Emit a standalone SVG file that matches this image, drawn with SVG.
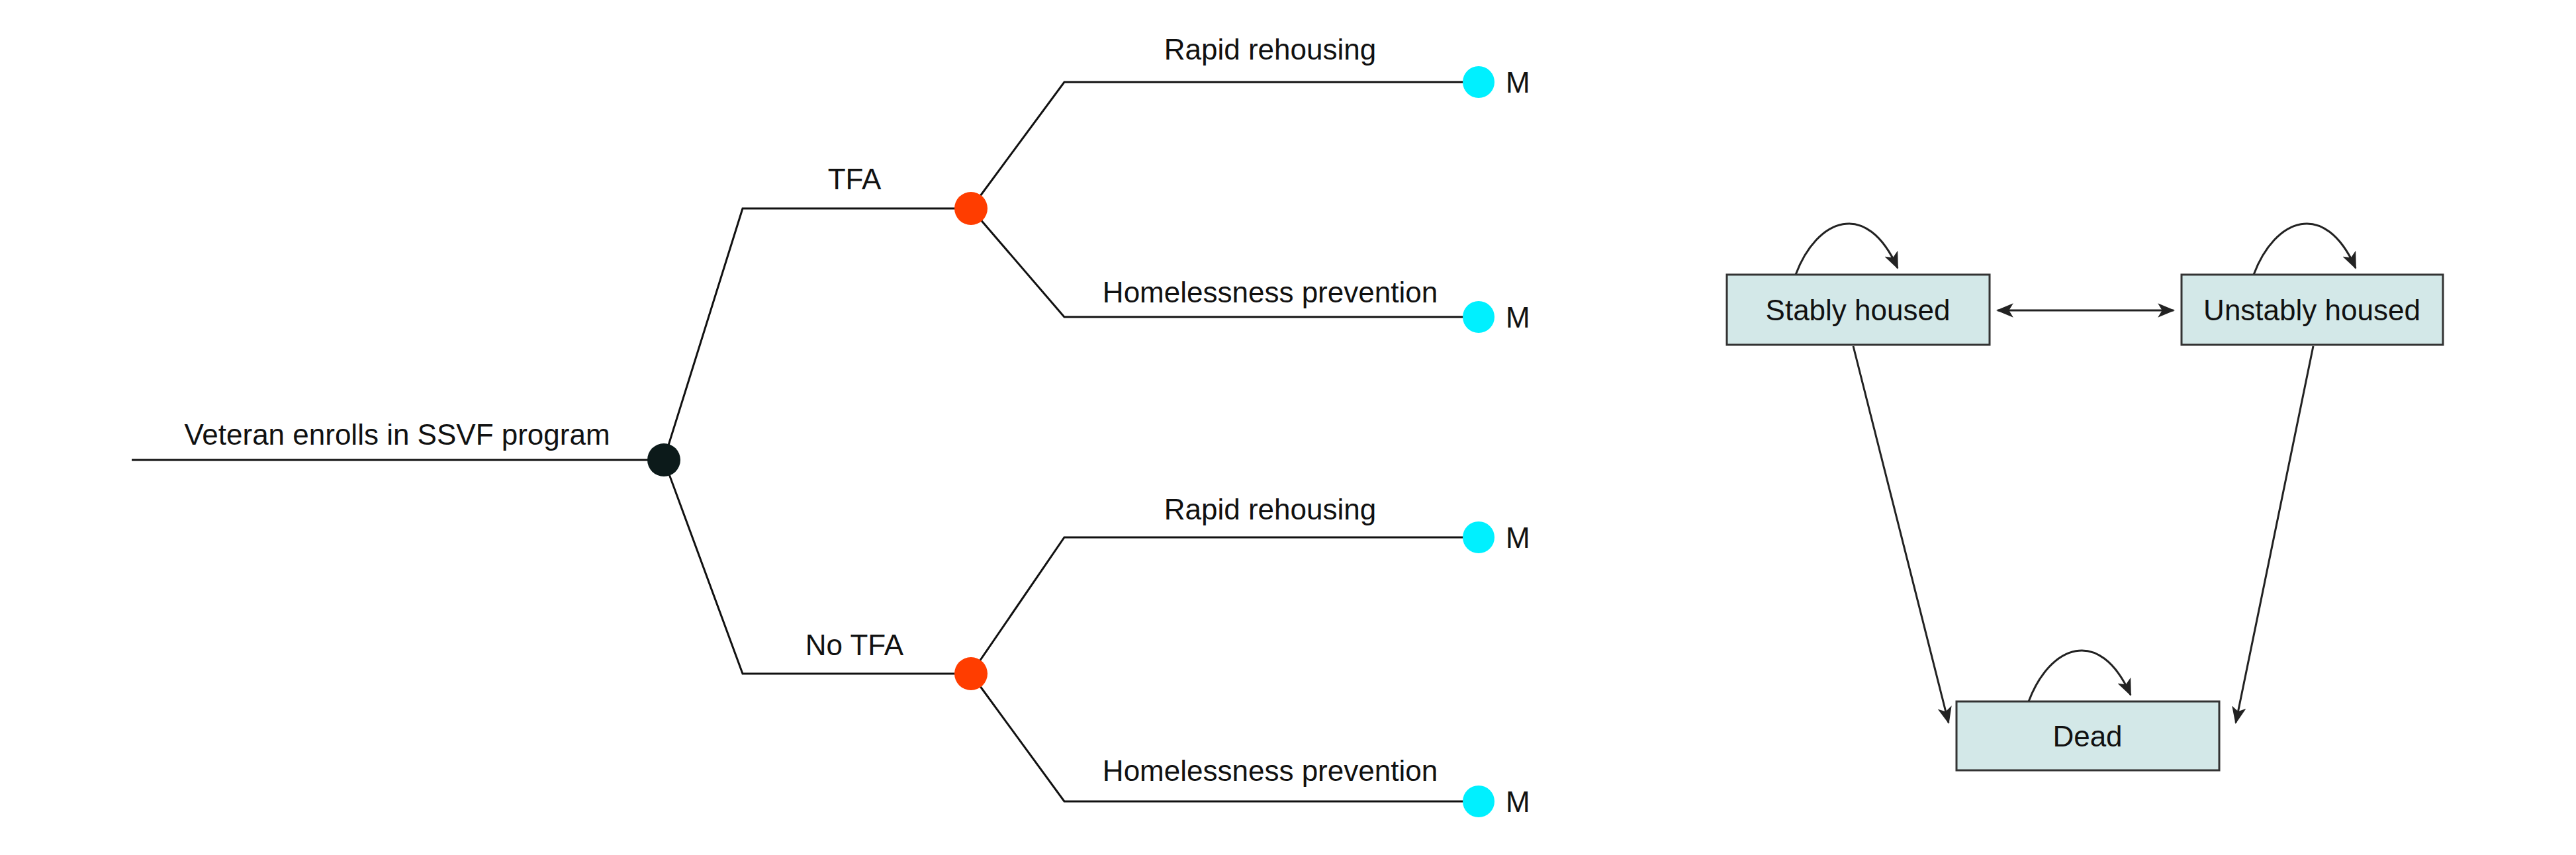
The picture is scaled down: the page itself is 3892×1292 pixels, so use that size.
<svg xmlns="http://www.w3.org/2000/svg" width="3892" height="1292" viewBox="0 0 3892 1292">
<style>
.e{fill:none;stroke:#111;stroke-width:3}
.a{fill:none;stroke:#222;stroke-width:3}
text{font-family:"Liberation Sans",Arial,sans-serif;font-size:44px;fill:#111}
.box{fill:#d3e8e8;stroke:#333;stroke-width:3}
.t{text-anchor:middle}
</style>
<defs>
<marker id="ah" viewBox="0 0 12 10" refX="11" refY="5" markerWidth="12" markerHeight="10" markerUnits="userSpaceOnUse" orient="auto-start-reverse">
<path d="M0,0 L12,5 L0,10 L3,5 Z" fill="#222"/>
</marker>
<marker id="ah2" viewBox="0 0 12 10" refX="11" refY="5" markerWidth="26" markerHeight="22" markerUnits="userSpaceOnUse" orient="auto-start-reverse">
<path d="M0,0 L12,5 L0,10 L3,5 Z" fill="#222"/>
</marker>
</defs>
<g id="connectors">
<path class="e" d="M199,695 H1003"/>
<path class="e" d="M1003,695 L1122,315 H1467"/>
<path class="e" d="M1003,695 L1122,1018 H1467"/>
<path class="e" d="M1467,315 L1608,124 H2234"/>
<path class="e" d="M1467,315 L1608,479 H2234"/>
<path class="e" d="M1467,1018 L1608,812 H2234"/>
<path class="e" d="M1467,1018 L1608,1211 H2234"/>
<path class="a" d="M3018,469 H3284" marker-start="url(#ah2)" marker-end="url(#ah2)"/>
<path class="a" d="M2713,415 C2745,330 2820,300 2867,405" marker-end="url(#ah2)"/>
<path class="a" d="M3405,415 C3437,330 3512,300 3559,405" marker-end="url(#ah2)"/>
<path class="a" d="M3065,1060 C3097,975 3172,945 3219,1050" marker-end="url(#ah2)"/>
<path class="a" d="M2800,523 L2944,1092" marker-end="url(#ah2)"/>
<path class="a" d="M3495,523 L3378,1092" marker-end="url(#ah2)"/>
</g>
<g id="root"><circle cx="1003" cy="695" r="25" fill="#0c1a1a"/><text class="t" x="600" y="672">Veteran enrolls in SSVF program</text></g>
<g id="tfa"><circle cx="1467" cy="315" r="25" fill="#ff3d00"/><text class="t" x="1291" y="286">TFA</text></g>
<g id="notfa"><circle cx="1467" cy="1018" r="25" fill="#ff3d00"/><text class="t" x="1291" y="990">No TFA</text></g>
<g id="rr1"><circle cx="2234" cy="124" r="24" fill="#00f0ff"/><text x="2275" y="140">M</text><text class="t" x="1919" y="90">Rapid rehousing</text></g>
<g id="hp1"><circle cx="2234" cy="479" r="24" fill="#00f0ff"/><text x="2275" y="495">M</text><text class="t" x="1919" y="457">Homelessness prevention</text></g>
<g id="rr2"><circle cx="2234" cy="812" r="24" fill="#00f0ff"/><text x="2275" y="828">M</text><text class="t" x="1919" y="785">Rapid rehousing</text></g>
<g id="hp2"><circle cx="2234" cy="1211" r="24" fill="#00f0ff"/><text x="2275" y="1227">M</text><text class="t" x="1919" y="1180">Homelessness prevention</text></g>
<g id="stably"><rect class="box" x="2609" y="415" width="397" height="106"/><text class="t" x="2807" y="484">Stably housed</text></g>
<g id="unstably"><rect class="box" x="3296" y="415" width="395" height="106"/><text class="t" x="3493" y="484">Unstably housed</text></g>
<g id="dead"><rect class="box" x="2956" y="1060" width="397" height="104"/><text class="t" x="3154" y="1128">Dead</text></g>
</svg>
